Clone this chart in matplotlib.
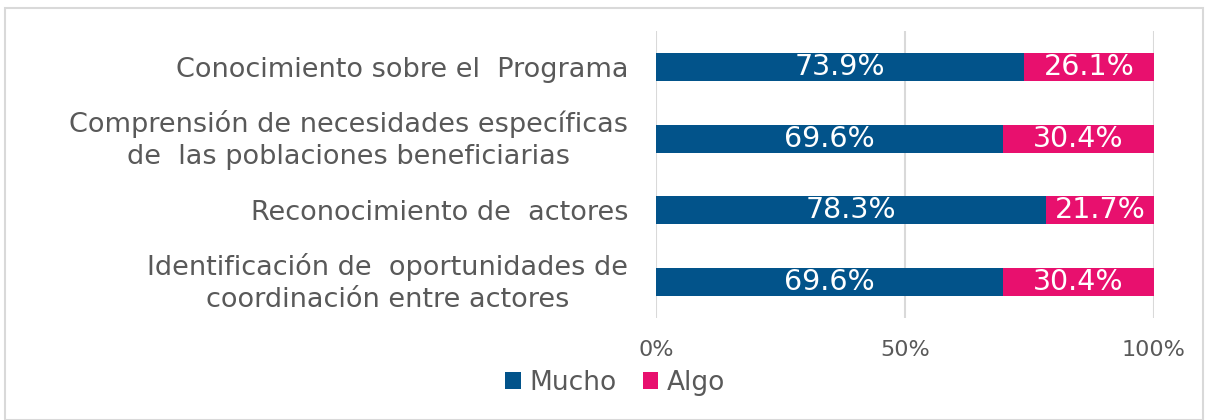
import numpy as np
import matplotlib.pyplot as plt
from matplotlib.patches import Rectangle
from matplotlib.transforms import offset_copy

# datos
categorias = ["Conocimiento sobre el  Programa",
              "Comprensión de necesidades específicas\nde  las poblaciones beneficiarias",
              "Reconocimiento de  actores",
              "Identificación de  oportunidades de\ncoordinación entre actores"]
mucho = [73.9, 69.6, 78.3, 69.6]
algo = [26.1, 30.4, 21.7, 30.4]
ticks = [0, 50, 100]
tick_labels = ["0%", "50%", "100%"]

azul = "#02538A"
rosa = "#E8106E"
gris = "#595959"

plt.rcParams['font.family'] = ['DejaVu Sans']

fig = plt.figure(figsize=(12.07, 4.2), dpi=100)
ax = fig.add_axes([656 / 1207, 1 - 318 / 420, (1154 - 656) / 1207, (318 - 31) / 420])

y = np.arange(len(categorias))
ax.barh(y, mucho, height=0.39, color=azul, label="Mucho", zorder=2)
ax.barh(y, algo, left=mucho, height=0.39, color=rosa, label="Algo", zorder=2)

for i in range(len(categorias)):
    ax.text(mucho[i] / 2, y[i], f"{mucho[i]:.1f}%", ha='center', va='center',
            color='white', fontsize=20.5, zorder=3)
    ax.text(mucho[i] + algo[i] / 2, y[i], f"{algo[i]:.1f}%", ha='center', va='center',
            color='white', fontsize=20.5, zorder=3)

ax.set_xlim(0, 100)
ax.set_ylim(len(categorias) - 0.5, -0.5)
ax.set_yticks(y)
ax.set_yticklabels(categorias, fontsize=19.5, color=gris, linespacing=1.3,
                   multialignment='center')
ax.set_xticks(ticks)
ax.set_xticklabels(tick_labels, fontsize=16, color=gris)
ax.tick_params(axis='both', length=0)
ax.tick_params(axis='x', pad=16)
ax.tick_params(axis='y', pad=20)
for s in ax.spines.values():
    s.set_visible(False)
ax.grid(axis='x', color='#D9D9D9', linewidth=1.5, zorder=0)

# subir un poco las etiquetas de dos lineas
for lab in ax.get_yticklabels():
    if "\n" in lab.get_text():
        lab.set_transform(offset_copy(lab.get_transform(), fig=fig, x=0, y=5, units='dots'))

leg = fig.legend(loc='center', bbox_to_anchor=(615 / 1207, 1 - 383 / 420), ncol=2,
                 frameon=False, fontsize=19, handlelength=0.6, handleheight=0.6,
                 handletextpad=0.3, columnspacing=1.0)
for t in leg.get_texts():
    t.set_color(gris)

fig.patches.append(Rectangle((5 / 1207, 0), 1198 / 1207, 1 - 8 / 420, transform=fig.transFigure,
                             fill=False, edgecolor='#D9D9D9', linewidth=1.5))

fig.savefig("out.png", dpi=100)
